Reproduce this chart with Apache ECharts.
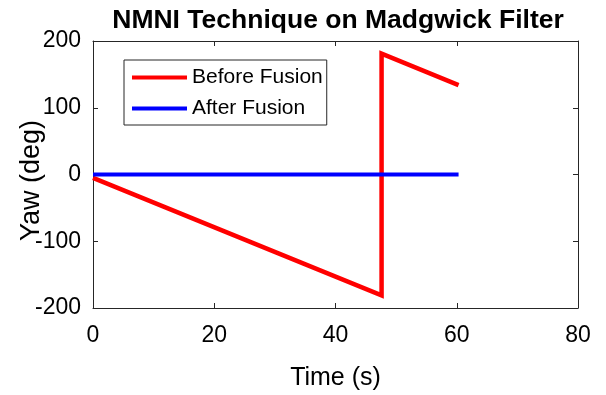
<!DOCTYPE html>
<html>
<head>
<meta charset="utf-8">
<script src="https://cdn.jsdelivr.net/npm/echarts@6/dist/echarts.min.js"></script>
<style>
  html, body { margin: 0; padding: 0; background: #fff; }
  #chart { width: 606px; height: 395px; }
</style>
</head>
<body>
<div id="chart"></div>
<script>
// Yaw estimate before fusion: drifts down, wraps at -180 to +180, keeps drifting
const beforeTime = [0, 47.6, 47.6, 60.3];
const beforeYaw = [-5, -181, 181, 134];
// Yaw estimate after fusion: held at zero
const afterTime = [0, 60.3];
const afterYaw = [0, 0];

const xTicks = { min: 0, max: 80, interval: 20 };
const yTicks = { min: -200, max: 200, interval: 100 };

const pairs = (xs, ys) => xs.map((x, i) => [x, ys[i]]);

const FONT = 'Liberation Sans, Arial, sans-serif';
const AXIS_COLOR = '#262626';

const boxAxis = {
  axisLine: { show: true, onZero: false, lineStyle: { color: AXIS_COLOR, width: 1 } },
  axisTick: { show: true, inside: true, length: 5, lineStyle: { color: AXIS_COLOR } },
  splitLine: { show: false }
};

const chart = echarts.init(document.getElementById('chart'));
chart.setOption({
  animation: false,
  backgroundColor: '#fff',
  title: {
    text: 'NMNI Technique on Madgwick Filter',
    left: 333, textAlign: 'center', top: 2,
    textStyle: { fontFamily: FONT, fontSize: 26.5, fontWeight: 'bold', color: '#000' }
  },
  grid: {
    left: 93, right: 28, top: 41, bottom: 87, show: false,
    containLabel: false, outerBoundsMode: 'none'
  },
  legend: {
    orient: 'vertical',
    left: 124, top: 60,
    padding: [7, 4, 6, 8],
    itemGap: 10,
    itemWidth: 55, itemHeight: 4,
    backgroundColor: '#fff',
    borderColor: AXIS_COLOR, borderWidth: 1,
    textStyle: { fontFamily: FONT, fontSize: 21, color: '#000' },
    data: [
      { name: 'Before Fusion', icon: 'rect' },
      { name: 'After Fusion', icon: 'rect' }
    ]
  },
  xAxis: [{
    type: 'value', ...xTicks, position: 'bottom', ...boxAxis,
    name: 'Time (s)', nameLocation: 'middle', nameGap: 58, nameMoveOverlap: false,
    nameTextStyle: { fontFamily: FONT, fontSize: 25, color: '#000' },
    axisLabel: { fontFamily: FONT, fontSize: 23, color: '#000', margin: 16 }
  }, {
    type: 'value', ...xTicks, position: 'top', ...boxAxis,
    axisLabel: { show: false }
  }],
  yAxis: [{
    type: 'value', ...yTicks, position: 'left', ...boxAxis,
    name: 'Yaw (deg)', nameLocation: 'middle', nameGap: 48, nameMoveOverlap: false,
    nameTextStyle: { fontFamily: FONT, fontSize: 27, color: '#000', padding: [0, 12, 0, 0] },
    axisLabel: { fontFamily: FONT, fontSize: 23, color: '#000', margin: 12 }
  }, {
    type: 'value', ...yTicks, position: 'right', ...boxAxis,
    axisLabel: { show: false }
  }],
  series: [{
    name: 'Before Fusion', type: 'line',
    data: pairs(beforeTime, beforeYaw),
    showSymbol: false, symbol: 'none',
    itemStyle: { color: '#ff0000' },
    lineStyle: { color: '#ff0000', width: 4.5, join: 'miter' }
  }, {
    name: 'After Fusion', type: 'line',
    data: pairs(afterTime, afterYaw),
    showSymbol: false, symbol: 'none',
    itemStyle: { color: '#0000ff' },
    lineStyle: { color: '#0000ff', width: 4 }
  }]
});
</script>
</body>
</html>
